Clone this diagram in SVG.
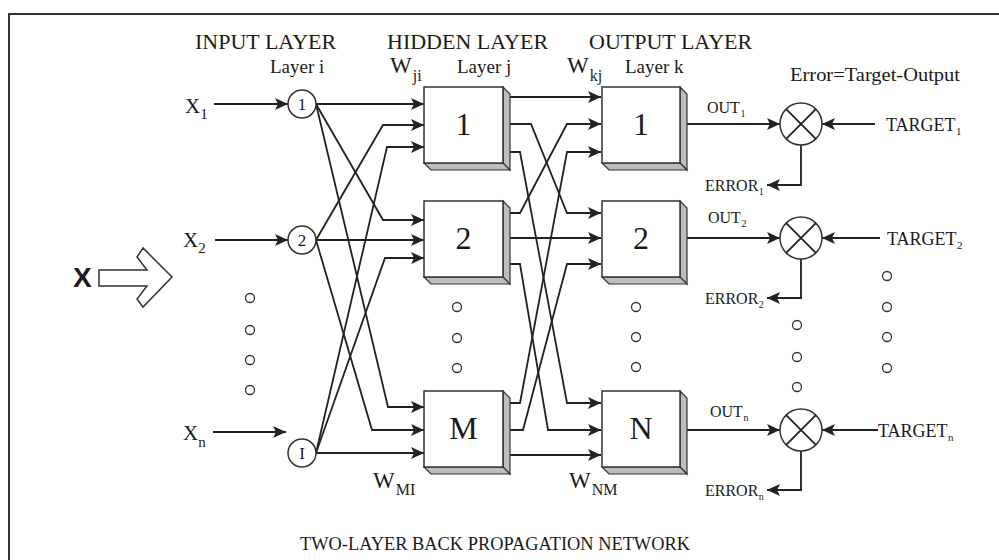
<svg xmlns="http://www.w3.org/2000/svg" width="999" height="560" viewBox="0 0 999 560">
<style>
.t{font-family:"Liberation Serif","Times New Roman",serif;fill:#1a1a1a}
.s{font-family:"Liberation Sans",Arial,sans-serif;fill:#1a1a1a}
.ln{fill:none;stroke:#222;stroke-width:1.8}
.ar{marker-end:url(#ah)}
.box{fill:#fff;stroke:#333;stroke-width:1.5}
.bev{fill:#bdbdbd;stroke:#333;stroke-width:1.2}
.nd{fill:#fff;stroke:#333;stroke-width:1.5}
.dot{fill:none;stroke:#333;stroke-width:1.3}
</style>
<defs>
<marker id="ah" markerUnits="userSpaceOnUse" markerWidth="14" markerHeight="12" refX="13" refY="6" orient="auto">
<path d="M0,0 L13,6 L0,12 L3,6 z" fill="#222"/>
</marker>
</defs>
<rect width="999" height="560" fill="#fff"/>
<path d="M9,560 V14 H999" fill="none" stroke="#333" stroke-width="2"/>

<g id="titles">
<text class="t" x="195" y="49" font-size="22">INPUT LAYER</text>
<text class="t" x="387" y="49" font-size="22">HIDDEN LAYER</text>
<text class="t" x="589" y="49" font-size="22">OUTPUT LAYER</text>
<text class="t" x="270" y="73" font-size="19">Layer i</text>
<text class="t" x="457" y="73" font-size="19">Layer j</text>
<text class="t" x="625" y="73" font-size="19">Layer k</text>
<text class="t" x="790" y="81" font-size="19" textLength="170" lengthAdjust="spacingAndGlyphs">Error=Target-Output</text>
<text class="t" x="390" y="73" font-size="23">W<tspan font-size="16" dx="1" dy="8">ji</tspan></text>
<text class="t" x="567" y="73" font-size="23">W<tspan font-size="16" dx="1" dy="8">kj</tspan></text>
<text class="t" x="373" y="488" font-size="23">W<tspan font-size="16" dx="1" dy="7">MI</tspan></text>
<text class="t" x="569" y="488" font-size="23">W<tspan font-size="16" dx="1" dy="7">NM</tspan></text>
<text class="t" x="300" y="550" font-size="19" textLength="390" lengthAdjust="spacingAndGlyphs">TWO-LAYER BACK PROPAGATION NETWORK</text>
</g>

<g id="input-vector">
<text class="s" x="73" y="287" font-size="28" font-weight="bold">X</text>
<path d="M99,270 H147 L137,257 L143,248 L172,277 L143,307 L137,299 L147,286 H99 Z" fill="#fff" stroke="#333" stroke-width="1.5"/>
</g>

<g id="inputs">
<text class="t" x="185" y="113" font-size="21">X<tspan font-size="15" dy="6">1</tspan></text>
<text class="t" x="183" y="247" font-size="21">X<tspan font-size="15" dy="6">2</tspan></text>
<text class="t" x="183" y="440" font-size="21">X<tspan font-size="15" dy="7">n</tspan></text>
</g>

<g id="connectors">
<path class="ln ar" d="M214,104 H288"/>
<path class="ln ar" d="M215,240 H288"/>
<path class="ln ar" d="M213,432 H286"/>
<path class="ln ar" d="M316,104 H424"/>
<path class="ln ar" d="M316,240 L383,125 H424"/>
<path class="ln ar" d="M316,453 L387,147 H424"/>
<path class="ln ar" d="M316,104 L383,220 H424"/>
<path class="ln ar" d="M316,240 H424"/>
<path class="ln ar" d="M316,453 L385,258 H424"/>
<path class="ln ar" d="M316,104 L388,407 H424"/>
<path class="ln ar" d="M316,240 L372,430 H424"/>
<path class="ln ar" d="M316,453 H424"/>
<path class="ln ar" d="M503,97 H601"/>
<path class="ln ar" d="M503,124 H531 L567,213 H601"/>
<path class="ln ar" d="M503,152 H520 L567,403 H601"/>
<path class="ln ar" d="M503,213 H520 L567,124 H601"/>
<path class="ln ar" d="M503,238 H601"/>
<path class="ln ar" d="M503,264 H520 L548,430 H601"/>
<path class="ln ar" d="M503,403 H520 L567,152 H601"/>
<path class="ln ar" d="M503,430 H523 L567,264 H601"/>
<path class="ln ar" d="M503,455 H601"/>
<path class="ln ar" d="M687,124 H780"/>
<path class="ln ar" d="M687,238 H780"/>
<path class="ln ar" d="M687,430 H780"/>
<path class="ln ar" d="M875,124 H822"/>
<path class="ln ar" d="M880,238 H822"/>
<path class="ln ar" d="M878,430 H822"/>
<path class="ln ar" d="M801,145 V185 H767"/>
<path class="ln ar" d="M801,259 V298 H767"/>
<path class="ln ar" d="M801,451 V490 H767"/>
</g>

<g id="in1"><circle class="nd" cx="302" cy="104" r="14"/><text class="t" x="302" y="110" font-size="17" text-anchor="middle">1</text></g>
<g id="in2"><circle class="nd" cx="302" cy="240" r="14"/><text class="t" x="302" y="246" font-size="17" text-anchor="middle">2</text></g>
<g id="inI"><circle class="nd" cx="302" cy="453" r="14"/><text class="t" x="302" y="459" font-size="17" text-anchor="middle">I</text></g>

<g id="h1">
<polygon class="bev" points="503,87 510,94 510,170 503,163"/>
<polygon class="bev" points="424,163 503,163 510,170 431,170"/>
<rect class="box" x="424" y="87" width="79" height="76"/>
<text class="t" x="463.5" y="135" font-size="32" text-anchor="middle">1</text>
</g>
<g id="h2">
<polygon class="bev" points="503,201 510,208 510,284 503,277"/>
<polygon class="bev" points="424,277 503,277 510,284 431,284"/>
<rect class="box" x="424" y="201" width="79" height="76"/>
<text class="t" x="463.5" y="249" font-size="32" text-anchor="middle">2</text>
</g>
<g id="hM">
<polygon class="bev" points="503,391 510,398 510,474 503,467"/>
<polygon class="bev" points="424,467 503,467 510,474 431,474"/>
<rect class="box" x="424" y="391" width="79" height="76"/>
<text class="t" x="463.5" y="439" font-size="32" text-anchor="middle">M</text>
</g>
<g id="o1">
<polygon class="bev" points="680,87 687,94 687,170 680,163"/>
<polygon class="bev" points="602,163 680,163 687,170 609,170"/>
<rect class="box" x="602" y="87" width="78" height="76"/>
<text class="t" x="641" y="135" font-size="32" text-anchor="middle">1</text>
</g>
<g id="o2">
<polygon class="bev" points="680,201 687,208 687,284 680,277"/>
<polygon class="bev" points="602,277 680,277 687,284 609,284"/>
<rect class="box" x="602" y="201" width="78" height="76"/>
<text class="t" x="641" y="249" font-size="32" text-anchor="middle">2</text>
</g>
<g id="oN">
<polygon class="bev" points="680,391 687,398 687,474 680,467"/>
<polygon class="bev" points="602,467 680,467 687,474 609,474"/>
<rect class="box" x="602" y="391" width="78" height="76"/>
<text class="t" x="641" y="439" font-size="32" text-anchor="middle">N</text>
</g>

<g id="s1">
<circle class="nd" cx="801" cy="124" r="21"/>
<path class="ln" stroke-width="1.3" d="M786.2,109.2 L815.8,138.8 M815.8,109.2 L786.2,138.8"/>
</g>
<g id="s2">
<circle class="nd" cx="801" cy="238" r="21"/>
<path class="ln" stroke-width="1.3" d="M786.2,223.2 L815.8,252.8 M815.8,223.2 L786.2,252.8"/>
</g>
<g id="sn">
<circle class="nd" cx="801" cy="430" r="21"/>
<path class="ln" stroke-width="1.3" d="M786.2,415.2 L815.8,444.8 M815.8,415.2 L786.2,444.8"/>
</g>

<g id="labels-out">
<text class="t" x="707" y="113" font-size="16">OUT<tspan font-size="10" dx="0.5" dy="4">1</tspan></text>
<text class="t" x="708" y="223" font-size="16">OUT<tspan font-size="10" dx="0.5" dy="4">2</tspan></text>
<text class="t" x="710" y="417" font-size="16">OUT<tspan font-size="10" dx="0.5" dy="4">n</tspan></text>
<text class="t" x="705" y="191" font-size="16">ERROR<tspan font-size="10" dx="0.5" dy="4">1</tspan></text>
<text class="t" x="705" y="304" font-size="16">ERROR<tspan font-size="10" dx="0.5" dy="4">2</tspan></text>
<text class="t" x="705" y="496" font-size="16">ERROR<tspan font-size="10" dx="0.5" dy="4">n</tspan></text>
<text class="t" x="886" y="131" font-size="18">TARGET<tspan font-size="11" dx="0.5" dy="4">1</tspan></text>
<text class="t" x="887" y="245" font-size="18">TARGET<tspan font-size="11" dx="0.5" dy="4">2</tspan></text>
<text class="t" x="878" y="437" font-size="18">TARGET<tspan font-size="11" dx="0.5" dy="4">n</tspan></text>
</g>

<g id="ellipsis">
<circle class="dot" cx="250" cy="298" r="4.5"/>
<circle class="dot" cx="250" cy="330" r="4.5"/>
<circle class="dot" cx="250" cy="360" r="4.5"/>
<circle class="dot" cx="250" cy="390" r="4.5"/>
<circle class="dot" cx="457" cy="307" r="4.5"/>
<circle class="dot" cx="457" cy="338" r="4.5"/>
<circle class="dot" cx="457" cy="368" r="4.5"/>
<circle class="dot" cx="636" cy="307" r="4.5"/>
<circle class="dot" cx="636" cy="337" r="4.5"/>
<circle class="dot" cx="636" cy="367" r="4.5"/>
<circle class="dot" cx="797" cy="325" r="4.5"/>
<circle class="dot" cx="797" cy="357" r="4.5"/>
<circle class="dot" cx="797" cy="387" r="4.5"/>
<circle class="dot" cx="887" cy="276" r="4.5"/>
<circle class="dot" cx="887" cy="307" r="4.5"/>
<circle class="dot" cx="887" cy="337" r="4.5"/>
<circle class="dot" cx="887" cy="368" r="4.5"/>
</g>
</svg>
